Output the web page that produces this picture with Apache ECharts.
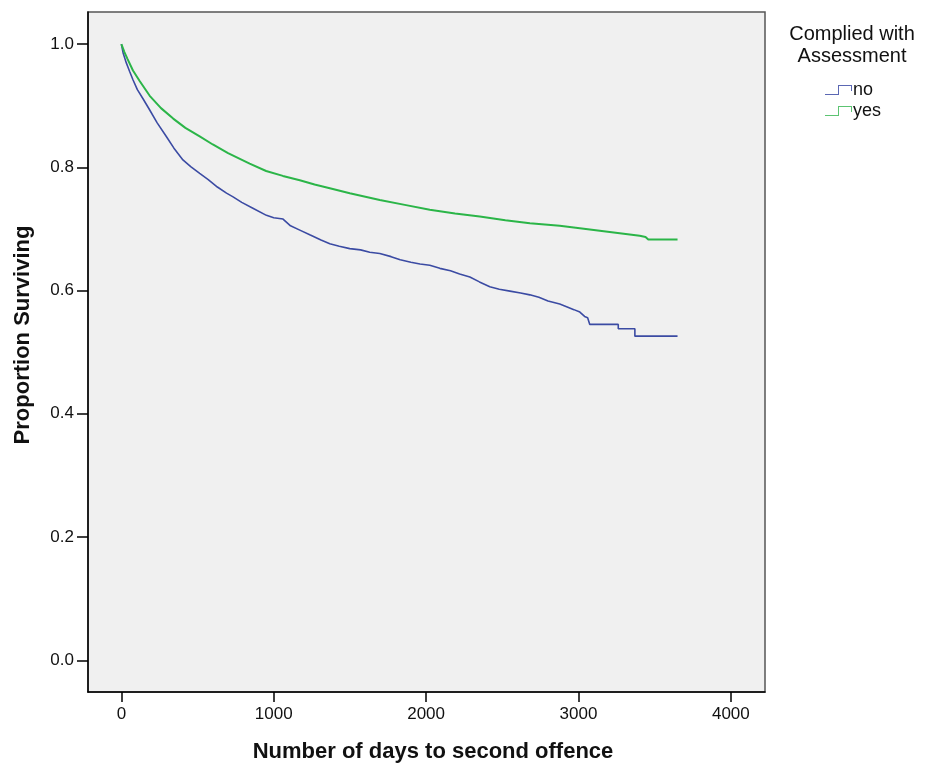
<!DOCTYPE html>
<html>
<head>
<meta charset="utf-8">
<script src="https://cdn.jsdelivr.net/npm/echarts@6/dist/echarts.min.js"></script>
<style>html,body{margin:0;padding:0;background:#fff;}#chart{width:925px;height:769px;}</style>
</head>
<body>
<div id="chart"></div>
<script>
// Kaplan-Meier survival estimates: [days, proportion surviving]
const seriesNames = ['no', 'yes'];
const noCurve = [[0,1.0],[12,0.985],[33,0.969],[55,0.955],[76,0.942],[105,0.926],[145,0.910],[186,0.893],[235,0.872],[295,0.850],[345,0.831],[404,0.812],[455,0.801],[514,0.790],[570,0.780],[630,0.768],[690,0.758],[733,0.752],[790,0.743],[860,0.734],[952,0.722],[1000,0.718],[1061,0.716],[1110,0.705],[1171,0.698],[1240,0.690],[1310,0.682],[1368,0.676],[1430,0.672],[1499,0.668],[1570,0.666],[1630,0.662],[1696,0.660],[1770,0.655],[1830,0.650],[1900,0.646],[1960,0.643],[2024,0.641],[2090,0.636],[2160,0.632],[2220,0.627],[2287,0.622],[2350,0.614],[2418,0.606],[2480,0.602],[2550,0.599],[2620,0.596],[2681,0.593],[2740,0.589],[2800,0.583],[2877,0.578],[2930,0.573],[2970,0.569],[3009,0.565],[3040,0.558],[3060,0.556],[3074,0.545],[3261,0.545],[3261,0.538],[3370,0.538],[3370,0.526],[3650,0.526]];
const yesCurve = [[0,1.0],[20,0.987],[40,0.976],[76,0.957],[120,0.940],[186,0.916],[260,0.896],[340,0.879],[420,0.864],[514,0.850],[600,0.837],[700,0.823],[842,0.806],[950,0.794],[1060,0.786],[1171,0.779],[1268,0.772],[1368,0.766],[1499,0.758],[1696,0.747],[1860,0.739],[2024,0.731],[2190,0.725],[2352,0.720],[2520,0.714],[2681,0.709],[2877,0.705],[3009,0.701],[3205,0.695],[3402,0.689],[3440,0.687],[3458,0.683],[3650,0.683]];
const xTicks = [0, 1000, 2000, 3000, 4000];
const yTicks = [0, 0.2, 0.4, 0.6, 0.8, 1.0];
const xTitle = 'Number of days to second offence';
const yTitle = 'Proportion Surviving';
const legendTitle = 'Complied with\nAssessment';

const FONT = '"Liberation Sans", Arial, sans-serif';
const stepIcon = 'path://M0,9L13,9L13,0L27,0L27,6L26,6L26,1L14,1L14,10L0,10Z';

const chart = echarts.init(document.getElementById('chart'), null, {renderer: 'canvas'});
chart.setOption({
  backgroundColor: '#ffffff',
  animation: false,
  grid: {
    left: 88, right: 160, top: 12, bottom: 77,
    show: true, backgroundColor: '#f0f0f0', borderColor: '#555555', borderWidth: 1.5
  },
  xAxis: {
    type: 'value', min: -219, max: 4224,
    splitLine: {show: false},
    axisLine: {show: true, onZero: false, lineStyle: {color: '#000', width: 1.5}},
    axisTick: {show: true, inside: false, length: 10, customValues: xTicks, lineStyle: {color: '#000', width: 1.5}},
    axisLabel: {customValues: xTicks, margin: 14, fontSize: 17, color: '#111', fontFamily: FONT,
      formatter: v => String(v)}
  },
  yAxis: {
    type: 'value', min: -0.0515, max: 1.052,
    splitLine: {show: false},
    axisLine: {show: true, onZero: false, lineStyle: {color: '#000', width: 1.5}},
    axisTick: {show: true, inside: false, length: 11, customValues: yTicks, lineStyle: {color: '#000', width: 1.5}},
    axisLabel: {customValues: yTicks, margin: 14, fontSize: 17, color: '#111', fontFamily: FONT,
      formatter: v => v.toFixed(1)}
  },
  legend: {
    orient: 'vertical', left: 820, top: 76, itemGap: 3,
    itemWidth: 27, itemHeight: 10, icon: stepIcon,
    textStyle: {fontSize: 18, color: '#111', fontFamily: FONT, padding: [0, 0, 0, -4]},
    data: [
      {name: seriesNames[0], itemStyle: {color: '#5b67b3'}},
      {name: seriesNames[1], itemStyle: {color: '#5cc472'}}
    ]
  },
  graphic: [
    {type: 'text', x: 852, y: 23, style: {text: legendTitle, font: '20px ' + FONT, fill: '#111', align: 'center', verticalAlign: 'top', lineHeight: 22}},
    {type: 'text', x: 433, y: 752, style: {text: xTitle, font: 'bold 22px ' + FONT, fill: '#111', align: 'center', verticalAlign: 'middle'}},
    {type: 'text', x: 23, y: 335, rotation: Math.PI / 2, style: {text: yTitle, font: 'bold 22px ' + FONT, fill: '#111', align: 'center', verticalAlign: 'middle'}}
  ],
  series: [
    {name: seriesNames[0], type: 'line', data: noCurve, showSymbol: false,
      lineStyle: {color: '#3b4ba3', width: 1.6}, itemStyle: {color: '#3b4ba3'}},
    {name: seriesNames[1], type: 'line', data: yesCurve, showSymbol: false, smooth: false,
      lineStyle: {color: '#2bb548', width: 2}, itemStyle: {color: '#2bb548'}}
  ]
});
</script>
</body>
</html>
